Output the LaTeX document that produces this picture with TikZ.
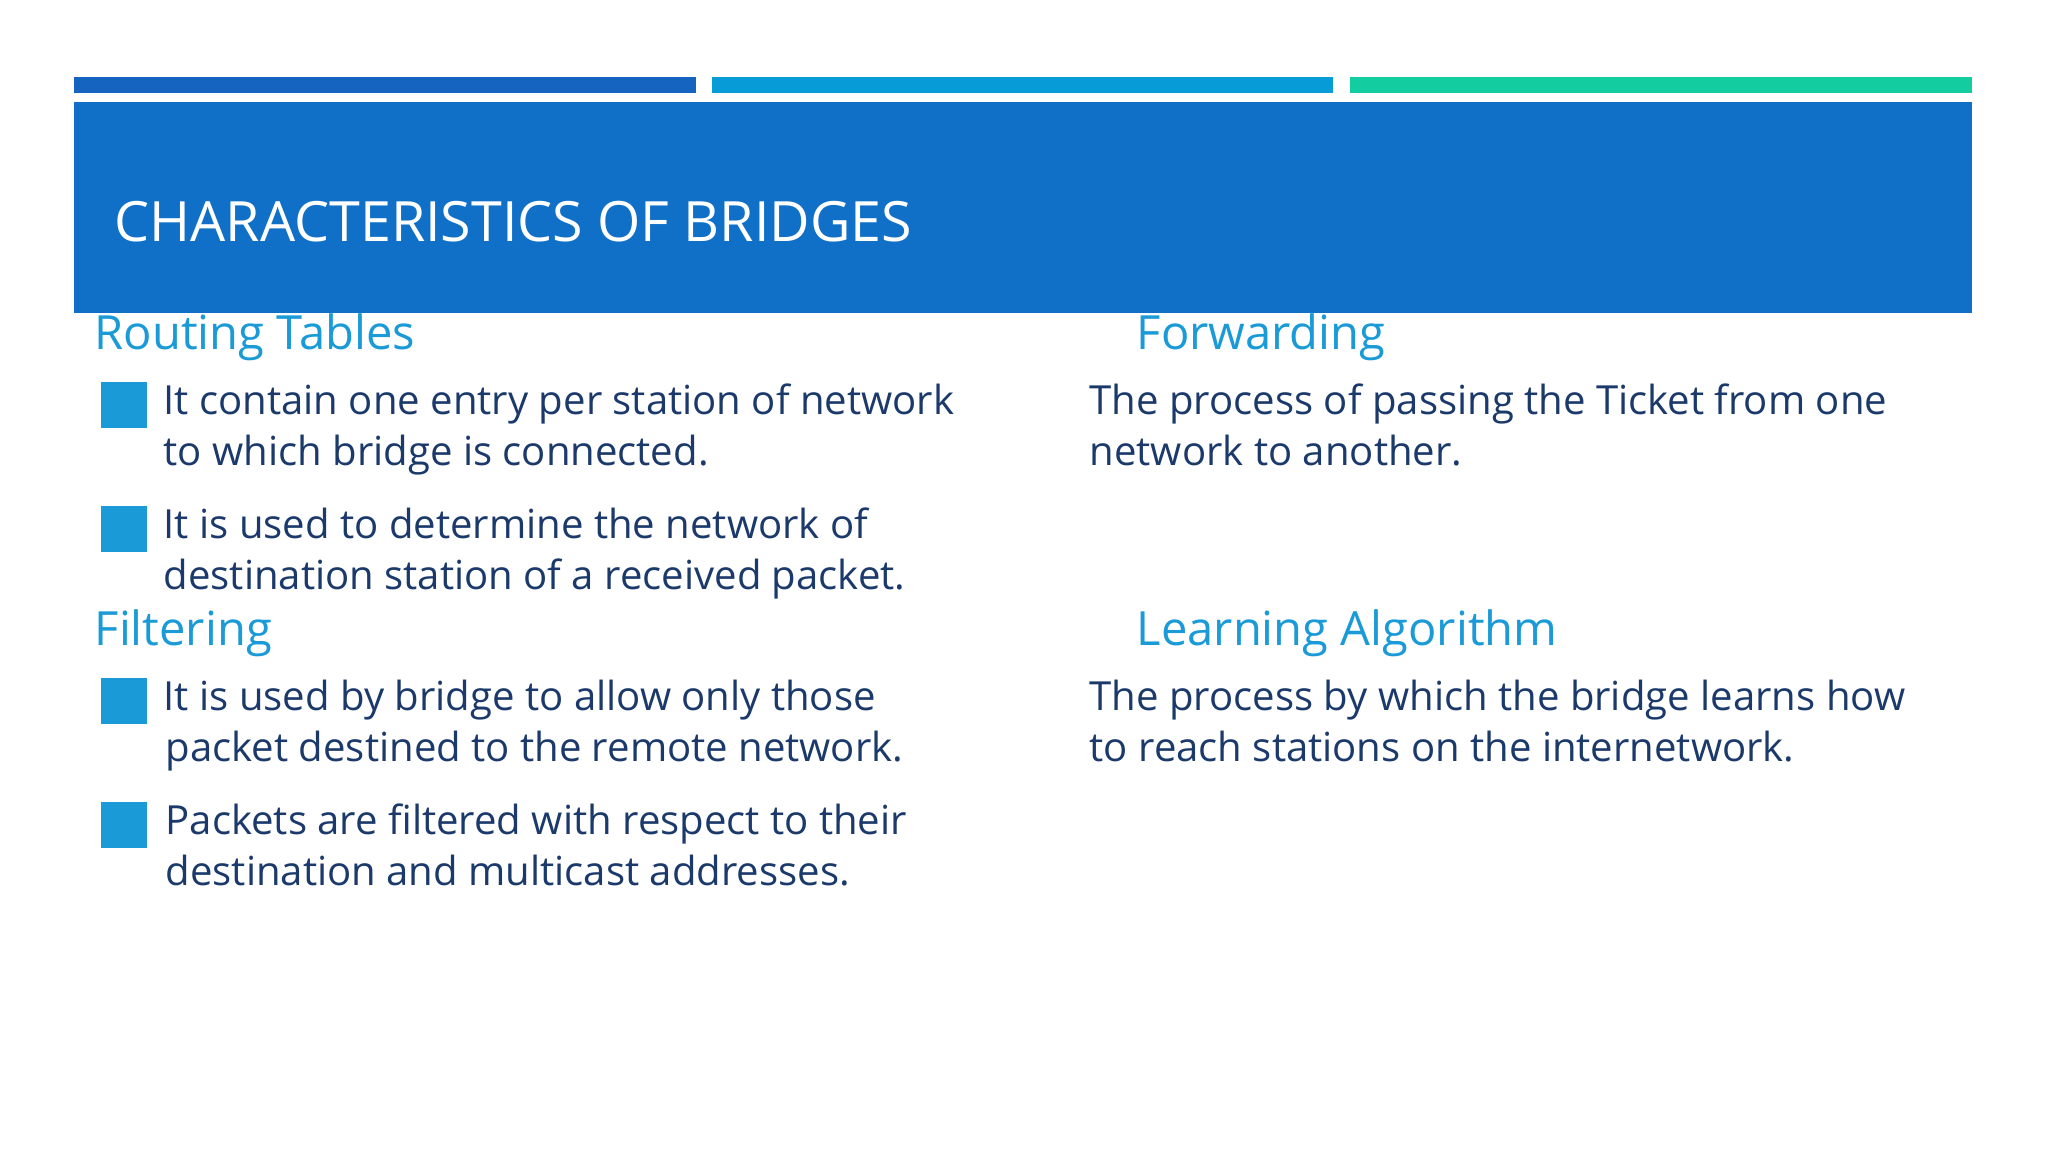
\documentclass[tikz,border=0pt]{standalone}
\usepackage{fontspec}
\setmainfont{Open Sans}
\definecolor{hdr}{HTML}{1070C8}
\definecolor{bar1}{HTML}{1565C0}
\definecolor{bar2}{HTML}{079BD8}
\definecolor{bar3}{HTML}{13CCA0}
\definecolor{head}{HTML}{1A9BD7}
\definecolor{body}{HTML}{1B3A6B}
\tikzset{
 headtxt/.style={anchor=mid west,inner sep=0,text=head,font=\fontsize{13.4}{16}\selectfont},
 bodytxt/.style={anchor=mid west,inner sep=0,text=body,font=\fontsize{11.4}{14}\selectfont},
 bul/.style={fill=head,minimum size=13,inner sep=0,draw=none}
}
\begin{document}
\begin{tikzpicture}[x=0.01cm,y=-0.01cm]
\useasboundingbox[fill=white] (0,0) rectangle (2048,1152);
\fill[bar1] (74,77) rectangle (696,93);
\fill[bar2] (712,77) rectangle (1333,93);
\fill[bar3] (1350,77) rectangle (1972,93);
\fill[hdr] (74,102) rectangle (1972,313);
\node[anchor=mid west,inner sep=0,text=white,font=\fontsize{15.8}{18}\selectfont] (title) at (114,232) {CHARACTERISTICS OF BRIDGES};
\node[headtxt] (h1) at (94,340) {Routing Tables};
\node[bul] (b1) at (124,405) {};
\node[bodytxt] (t1a) at (163,405) {It contain one entry per station of network};
\node[bodytxt] (t1b) at (163,456) {to which bridge is connected.};
\node[bul] (b2) at (124,529) {};
\node[bodytxt] (t2a) at (163,529) {It is used to determine the network of};
\node[bodytxt] (t2b) at (163,580) {destination station of a received packet.};
\node[headtxt] (h2) at (94,636) {Filtering};
\node[bul] (b3) at (124,701) {};
\node[bodytxt] (t3a) at (163,701) {It is used by bridge to allow only those};
\node[bodytxt] (t3b) at (165,752) {packet destined to the remote network.};
\node[bul] (b4) at (124,825) {};
\node[bodytxt] (t4a) at (165,825) {Packets are filtered with respect to their};
\node[bodytxt] (t4b) at (165,876) {destination and multicast addresses.};
\node[headtxt] (h3) at (1136,340) {Forwarding};
\node[bodytxt] (r1a) at (1089,405) {The process of passing the Ticket from one};
\node[bodytxt] (r1b) at (1089,456) {network to another.};
\node[headtxt] (h4) at (1136,636) {Learning Algorithm};
\node[bodytxt] (r2a) at (1089,701) {The process by which the bridge learns how};
\node[bodytxt] (r2b) at (1089,752) {to reach stations on the internetwork.};
\end{tikzpicture}
\end{document}
